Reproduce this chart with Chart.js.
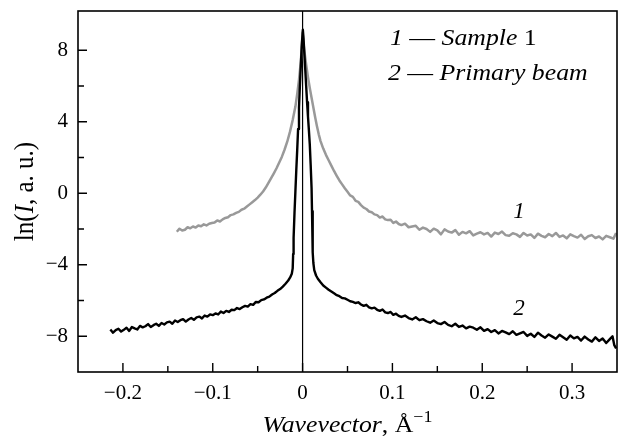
<!DOCTYPE html>
<html>
<head>
<meta charset="utf-8">
<script src="https://cdn.jsdelivr.net/npm/chart.js@4.4.1/dist/chart.umd.min.js"></script>
<style>
  body { margin: 0; background: #fff; font-family: "Liberation Serif"; }
  canvas { display: block; }
  .preload { position: absolute; left: -999px; top: 0; font-size: 21px; }
</style>
</head>
<body>
<span class="preload">0.1 ln a. u.</span>
<span class="preload"><i>Wavevector Sample Primary beam</i></span>
<canvas id="plot" width="619" height="439"></canvas>
<script>
// curve 1 - sample 1 (grey)
var sampleX = [
  -0.140, -0.137, -0.134, -0.131, -0.128, -0.125, -0.122, -0.119, -0.116, -0.113,
  -0.110, -0.107, -0.104, -0.101, -0.098, -0.095, -0.092, -0.089, -0.086, -0.083,
  -0.080, -0.077, -0.074, -0.071, -0.068, -0.065, -0.062, -0.059, -0.056, -0.053,
  -0.050, -0.047, -0.044, -0.041, -0.038, -0.035, -0.032, -0.029, -0.026, -0.023,
  -0.020, -0.017, -0.014, -0.011, -0.008, -0.006, -0.004, -0.002, -0.001, 0.000,
  0.001, 0.002, 0.004, 0.006, 0.008, 0.010, 0.012, 0.014, 0.016, 0.018,
  0.020, 0.023, 0.026, 0.029, 0.032, 0.035, 0.038, 0.041, 0.044, 0.047,
  0.050, 0.053, 0.056, 0.059, 0.062, 0.065, 0.068, 0.071, 0.074, 0.077,
  0.080, 0.083, 0.086, 0.089, 0.092, 0.095, 0.098, 0.101, 0.104, 0.107,
  0.110, 0.114, 0.118, 0.122, 0.126, 0.130, 0.134, 0.138, 0.142, 0.146,
  0.150, 0.154, 0.158, 0.162, 0.166, 0.170, 0.174, 0.178, 0.182, 0.186,
  0.190, 0.194, 0.198, 0.202, 0.206, 0.210, 0.214, 0.218, 0.222, 0.226,
  0.230, 0.234, 0.238, 0.242, 0.246, 0.250, 0.254, 0.258, 0.262, 0.266,
  0.270, 0.274, 0.278, 0.282, 0.286, 0.290, 0.294, 0.298, 0.302, 0.306,
  0.310, 0.314, 0.318, 0.322, 0.326, 0.330, 0.334, 0.338, 0.342, 0.346, 0.349
];
var sampleY = [
  -2.15, -1.98, -2.08, -2.04, -1.90, -1.96, -1.86, -1.92, -1.80, -1.84,
  -1.74, -1.80, -1.70, -1.66, -1.64, -1.52, -1.58, -1.46, -1.38, -1.34,
  -1.22, -1.18, -1.10, -1.04, -0.92, -0.86, -0.74, -0.62, -0.50, -0.38,
  -0.24, -0.08, 0.10, 0.32, 0.58, 0.85, 1.12, 1.40, 1.72, 2.05,
  2.45, 2.90, 3.45, 4.10, 4.85, 5.55, 6.35, 7.35, 8.10, 9.00,
  8.40, 7.95, 7.20, 6.50, 5.90, 5.35, 4.80, 4.25, 3.75, 3.30,
  2.92, 2.50, 2.15, 1.85, 1.55, 1.25, 0.98, 0.72, 0.50, 0.28,
  0.08, -0.12, -0.20, -0.42, -0.48, -0.66, -0.80, -0.88, -1.02, -1.06,
  -1.18, -1.22, -1.36, -1.30, -1.46, -1.50, -1.48, -1.66, -1.58, -1.72,
  -1.78, -1.70, -1.90, -1.86, -1.82, -2.04, -1.92, -2.00, -2.16, -1.98,
  -2.08, -2.30, -2.02, -2.14, -2.20, -2.06, -2.32, -2.16, -2.24, -2.12,
  -2.36, -2.26, -2.18, -2.30, -2.22, -2.42, -2.20, -2.28, -2.14, -2.34,
  -2.38, -2.24, -2.30, -2.44, -2.22, -2.36, -2.30, -2.50, -2.26, -2.38,
  -2.46, -2.28, -2.40, -2.22, -2.44, -2.36, -2.52, -2.30, -2.40, -2.48,
  -2.32, -2.56, -2.40, -2.34, -2.50, -2.42, -2.58, -2.38, -2.46, -2.54, -2.22
];

// curve 2 - primary beam (black)
var beamX = [
  -0.214, -0.211, -0.208, -0.205, -0.202, -0.199, -0.196, -0.193, -0.190, -0.187,
  -0.184, -0.181, -0.178, -0.175, -0.172, -0.169, -0.166, -0.163, -0.160, -0.157,
  -0.154, -0.151, -0.148, -0.145, -0.142, -0.139, -0.136, -0.133, -0.130, -0.127,
  -0.124, -0.121, -0.118, -0.115, -0.112, -0.109, -0.106, -0.103, -0.100, -0.097,
  -0.094, -0.091, -0.088, -0.085, -0.082, -0.079, -0.076, -0.073, -0.070, -0.067,
  -0.064, -0.061, -0.058, -0.055, -0.052, -0.049, -0.046, -0.043, -0.040, -0.037,
  -0.034, -0.031, -0.028, -0.025, -0.022, -0.019, -0.016, -0.014, -0.012, -0.011,
  -0.0105, -0.010, -0.009, -0.008, -0.007, -0.006, -0.005, -0.004, -0.003, -0.002,
  -0.001, 0.0003, 0.001, 0.002, 0.003, 0.004, 0.005, 0.006, 0.007, 0.008,
  0.009, 0.010, 0.0105, 0.011, 0.0115, 0.012, 0.013, 0.015, 0.017, 0.020,
  0.023, 0.026, 0.029, 0.032, 0.035, 0.038, 0.041, 0.044, 0.047, 0.050,
  0.053, 0.056, 0.059, 0.062, 0.065, 0.068, 0.071, 0.074, 0.077, 0.080,
  0.083, 0.086, 0.089, 0.092, 0.095, 0.098, 0.101, 0.104, 0.107, 0.110,
  0.114, 0.118, 0.122, 0.126, 0.130, 0.134, 0.138, 0.142, 0.146, 0.150,
  0.154, 0.158, 0.162, 0.166, 0.170, 0.174, 0.178, 0.182, 0.186, 0.190,
  0.194, 0.198, 0.202, 0.206, 0.210, 0.214, 0.218, 0.222, 0.226, 0.230,
  0.234, 0.238, 0.242, 0.246, 0.250, 0.254, 0.258, 0.262, 0.266, 0.270,
  0.274, 0.278, 0.282, 0.286, 0.290, 0.294, 0.298, 0.302, 0.306, 0.310,
  0.314, 0.318, 0.322, 0.326, 0.330, 0.334, 0.338, 0.342, 0.345, 0.347, 0.349
];
var beamY = [
  -7.62, -7.80, -7.66, -7.58, -7.74, -7.64, -7.52, -7.70, -7.48, -7.56,
  -7.62, -7.42, -7.50, -7.44, -7.32, -7.48, -7.38, -7.30, -7.42, -7.26,
  -7.34, -7.22, -7.18, -7.30, -7.12, -7.20, -7.10, -7.04, -7.18, -7.06,
  -6.98, -7.08, -6.94, -6.90, -7.00, -6.84, -6.90, -6.78, -6.82, -6.72,
  -6.78, -6.62, -6.70, -6.58, -6.64, -6.52, -6.54, -6.42, -6.48, -6.38,
  -6.30, -6.34, -6.20, -6.24, -6.08, -6.10, -5.98, -5.94, -5.84, -5.78,
  -5.66, -5.58, -5.46, -5.36, -5.22, -5.06, -4.88, -4.72, -4.50, -4.20,
  -3.40, -2.50, -1.10, 0.10, 1.30, 2.40, 3.60, 4.80, 6.00, 7.10,
  8.20, 9.15, 8.70, 7.80, 6.90, 6.00, 5.10, 4.30, 3.55, 2.75,
  1.60, 0.30, -1.00, -2.30, -3.30, -3.90, -4.30, -4.60, -4.78, -4.98,
  -5.16, -5.28, -5.40, -5.50, -5.60, -5.70, -5.76, -5.86, -5.88, -5.96,
  -6.04, -6.08, -6.14, -6.10, -6.22, -6.30, -6.24, -6.38, -6.44, -6.40,
  -6.52, -6.58, -6.50, -6.66, -6.70, -6.64, -6.80, -6.74, -6.86, -6.92,
  -6.84, -6.98, -7.06, -6.94, -7.10, -7.04, -7.16, -7.24, -7.12, -7.26,
  -7.32, -7.20, -7.36, -7.44, -7.30, -7.48, -7.40, -7.56, -7.46, -7.52,
  -7.64, -7.50, -7.70, -7.60, -7.76, -7.66, -7.84, -7.70, -7.78, -7.88,
  -7.72, -7.92, -7.84, -7.76, -7.98, -7.86, -8.04, -7.80, -7.96, -8.08,
  -7.90, -8.02, -8.14, -7.92, -8.06, -8.20, -7.96, -8.12, -8.04, -8.24,
  -8.02, -8.18, -8.30, -8.06, -8.26, -8.12, -8.38, -8.16, -8.00, -8.50, -8.68
];

var xTicks = [-0.2, -0.1, 0, 0.1, 0.2, 0.3];
var xMinor = [-0.15, -0.05, 0.05, 0.15, 0.25];
var yTicks = [-8, -4, 0, 4, 8];
var yMinor = [-6, -2, 2, 6];

var SERIF = '"Liberation Serif"';
var STRETCH = 1.12;  // the scan is a bit wider than tall

function pairs(xs, ys) {
    return xs.map(function (x, i) { return { x: x, y: ys[i] }; });
}

function minus(v, digits) {
    if (v === 0) return '0';
    var s = Math.abs(v).toFixed(digits);
    return v < 0 ? '\u2212' + s : s;
}

function runsWidth(ctx, runs, size) {
    var w = 0;
    runs.forEach(function (r) {
        ctx.font = (r.i ? 'italic ' : '') + (r.size || size) + 'px ' + SERIF;
        w += ctx.measureText(r.t).width;
    });
    return w;
}

// a row of text pieces, some of them italic
function drawRuns(ctx, runs, size) {
    var cx = 0;
    runs.forEach(function (r) {
        ctx.font = (r.i ? 'italic ' : '') + (r.size || size) + 'px ' + SERIF;
        ctx.fillText(r.t, cx, r.dy || 0);
        cx += ctx.measureText(r.t).width;
    });
}

var decor = {
    id: 'decor',
    beforeDatasetsDraw: function (chart) {
        var ctx = chart.ctx, a = chart.chartArea;
        var x0 = chart.scales.x.getPixelForValue(0);
        ctx.save();
        ctx.strokeStyle = '#000';
        ctx.lineWidth = 1.2;
        ctx.beginPath();
        ctx.moveTo(x0, a.top);
        ctx.lineTo(x0, a.bottom);
        ctx.stroke();
        ctx.restore();
    },
    afterDraw: function (chart) {
        var ctx = chart.ctx, a = chart.chartArea;
        var sx = chart.scales.x, sy = chart.scales.y;
        ctx.save();
        ctx.strokeStyle = '#000';
        ctx.fillStyle = '#000';
        ctx.lineWidth = 1.6;
        ctx.strokeRect(a.left, a.top, a.right - a.left, a.bottom - a.top);

        // ticks point inwards
        ctx.lineWidth = 1.4;
        ctx.beginPath();
        xTicks.forEach(function (v) {
            var p = sx.getPixelForValue(v);
            ctx.moveTo(p, a.bottom); ctx.lineTo(p, a.bottom - 9);
        });
        xMinor.forEach(function (v) {
            var p = sx.getPixelForValue(v);
            ctx.moveTo(p, a.bottom); ctx.lineTo(p, a.bottom - 6);
        });
        yTicks.forEach(function (v) {
            var p = sy.getPixelForValue(v);
            ctx.moveTo(a.left, p); ctx.lineTo(a.left + 9, p);
        });
        yMinor.forEach(function (v) {
            var p = sy.getPixelForValue(v);
            ctx.moveTo(a.left, p); ctx.lineTo(a.left + 6, p);
        });
        ctx.stroke();

        ctx.textBaseline = 'alphabetic';
        ctx.textAlign = 'left';

        // legend
        ctx.save();
        ctx.translate(390, 45); ctx.scale(STRETCH, 1);
        drawRuns(ctx, [{ t: '1', i: 1 }, { t: ' \u2014 ' }, { t: 'Sample', i: 1 }, { t: ' 1' }], 23);
        ctx.restore();
        ctx.save();
        ctx.translate(388, 80); ctx.scale(STRETCH, 1);
        drawRuns(ctx, [{ t: '2', i: 1 }, { t: ' \u2014 ' }, { t: 'Primary beam', i: 1 }], 23);
        ctx.restore();

        // curve numbers
        ctx.font = 'italic 23px ' + SERIF;
        ctx.textAlign = 'center';
        ctx.textBaseline = 'middle';
        ctx.fillText('1', sx.getPixelForValue(0.241), sy.getPixelForValue(-1.07));
        ctx.fillText('2', sx.getPixelForValue(0.241), sy.getPixelForValue(-6.45));
        ctx.textAlign = 'left';
        ctx.textBaseline = 'alphabetic';

        // x title
        var xt = [{ t: 'Wavevector', i: 1 }, { t: ', \u00c5' }, { t: '\u22121', size: 16, dy: -10 }];
        var w = runsWidth(ctx, xt, 23) * STRETCH;
        ctx.save();
        ctx.translate((a.left + a.right) / 2 - w / 2, 432); ctx.scale(STRETCH, 1);
        drawRuns(ctx, xt, 23);
        ctx.restore();

        // y title
        var yt = [{ t: 'ln(' }, { t: 'I', i: 1 }, { t: ', a. u.)' }];
        var h = runsWidth(ctx, yt, 25);
        ctx.save();
        ctx.translate(33, (a.top + a.bottom) / 2 + h / 2);
        ctx.rotate(-Math.PI / 2);
        ctx.scale(1, STRETCH);
        drawRuns(ctx, yt, 25);
        ctx.restore();

        ctx.restore();
    }
};

function build() {
    var ctx = document.getElementById('plot').getContext('2d');
    new Chart(ctx, {
        type: 'line',
        data: {
            datasets: [{
                label: 'Primary beam',
                data: pairs(beamX, beamY),
                borderColor: '#000',
                borderWidth: 2.4,
                order: 1
            }, {
                label: 'Sample 1',
                data: pairs(sampleX, sampleY),
                borderColor: '#999',
                borderWidth: 2.5,
                order: 2
            }]
        },
        options: {
            responsive: false,
            animation: false,
            devicePixelRatio: 1,
            layout: { padding: { top: 11, right: 2, left: 0, bottom: 0 } },
            elements: {
                point: { radius: 0 },
                line: { tension: 0, borderJoinStyle: 'round', fill: false }
            },
            plugins: {
                legend: { display: false },
                tooltip: { enabled: false }
            },
            scales: {
                x: {
                    type: 'linear',
                    min: -0.25,
                    max: 0.35,
                    grid: { display: false, drawTicks: false },
                    border: { display: false },
                    afterBuildTicks: function (s) {
                        s.ticks = xTicks.map(function (v) { return { value: v }; });
                    },
                    afterFit: function (s) {
                        s.height = 67;
                        s.paddingLeft = 0; s.paddingRight = 0;
                    },
                    ticks: {
                        autoSkip: false,
                        maxRotation: 0,
                        padding: 9,
                        color: '#000',
                        font: { family: SERIF, size: 21 },
                        callback: function (v) { return minus(v, 1); }
                    }
                },
                y: {
                    type: 'linear',
                    min: -10,
                    max: 10.2,
                    grid: { display: false, drawTicks: false },
                    border: { display: false },
                    afterBuildTicks: function (s) {
                        s.ticks = yTicks.map(function (v) { return { value: v }; });
                    },
                    afterFit: function (s) {
                        s.width = 78;
                        s.paddingTop = 0; s.paddingBottom = 0;
                    },
                    ticks: {
                        padding: 10,
                        color: '#000',
                        font: { family: SERIF, size: 21 },
                        callback: function (v) { return minus(v, 0); }
                    }
                }
            }
        },
        plugins: [decor]
    });
}

Promise.all([
    document.fonts.load('21px "Liberation Serif"'),
    document.fonts.load('italic 21px "Liberation Serif"')
]).then(build, build);
</script>
</body>
</html>
